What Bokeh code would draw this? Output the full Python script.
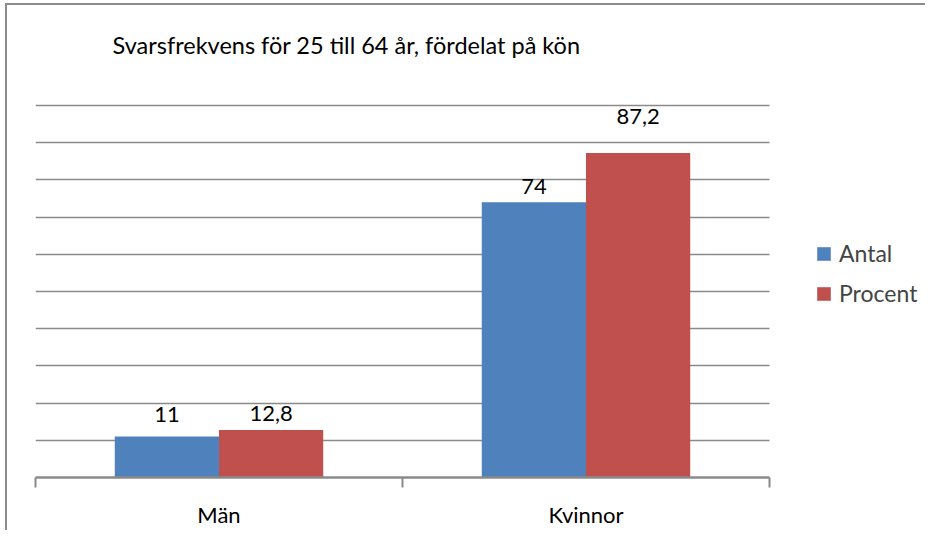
from bokeh.plotting import figure
from bokeh.models import (ColumnDataSource, FixedTicker, Label, LabelSet, Legend, LegendItem)
from bokeh.core.properties import value
from bokeh.embed import file_html
from bokeh.resources import INLINE

# ---- data ----
title_text = "Svarsfrekvens för 25 till 64 år, fördelat på kön"
categories = ["Män", "Kvinnor"]
series_names = ["Antal", "Procent"]
antal = [11, 74]
procent = [12.8, 87.2]
y_ticks = [0, 10, 20, 30, 40, 50, 60, 70, 80, 90, 100]
y_max = 100

# ---- style ----
FONT = "Lato"
BLUE = "#4F81BD"
RED = "#C0504D"
GRID = "#8a8a8a"
BAR_W = 0.284
label_dy_antal = [15, 8]
label_dy_procent = [9, 29]

W, H = 920, 527
BORDER_L, BORDER_B = 28, 55
PLOT_W, PLOT_H = 734, 372  # size of the category/value area in px


def fmt(v):
    return str(v).replace(".", ",")


n = len(categories)
centers = [i + 0.5 for i in range(n)]
x_end = n * (W - BORDER_L) / PLOT_W
y_end = y_max * (H - BORDER_B) / PLOT_H

p = figure(width=W, height=H, output_backend="svg", toolbar_location=None,
           x_range=(0, x_end), y_range=(0, y_end),
           min_border_left=BORDER_L, min_border_right=0, min_border_top=0,
           min_border_bottom=BORDER_B)
p.background_fill_color = "white"
p.border_fill_color = "white"
p.outline_line_color = None
p.styles = {"border-top": "2px solid #8c8c8c", "border-left": "2px solid #8c8c8c",
            "margin-left": "5px", "margin-top": "3px"}

src_a = ColumnDataSource(dict(x=[c - BAR_W / 2 for c in centers], top=antal,
                              lab=[fmt(v) for v in antal], dy=label_dy_antal))
src_p = ColumnDataSource(dict(x=[c + BAR_W / 2 for c in centers], top=procent,
                              lab=[fmt(v) for v in procent], dy=label_dy_procent))

r_a = p.vbar(x="x", top="top", width=BAR_W, bottom=0, source=src_a, fill_color=BLUE, line_color=None)
r_p = p.vbar(x="x", top="top", width=BAR_W, bottom=0, source=src_p, fill_color=RED, line_color=None)

for src in (src_a, src_p):
    p.add_layout(LabelSet(x="x", y="top", text="lab", source=src, y_offset="dy",
                          text_align="center", text_baseline="alphabetic",
                          text_font=value(FONT), text_font_size="22px", text_color="black"))

# grid
p.xgrid.visible = False
p.ygrid.ticker = FixedTicker(ticks=y_ticks)
p.ygrid.grid_line_color = GRID
p.ygrid.grid_line_width = 1.5
p.ygrid.cross_bounds = (0, n)

# axes
p.yaxis.visible = False
ax = p.xaxis[0]
ax.bounds = (0, n)
ax.ticker = FixedTicker(ticks=centers, minor_ticks=list(range(n + 1)))
ax.major_label_overrides = {c: cat for c, cat in zip(centers, categories)}
ax.major_tick_out = 0
ax.major_tick_in = 0
ax.minor_tick_out = 10
ax.minor_tick_in = 0
ax.minor_tick_line_color = GRID
ax.minor_tick_line_width = 2
ax.axis_line_color = GRID
ax.axis_line_width = 2.5
ax.major_label_text_font = FONT
ax.major_label_text_font_size = "22px"
ax.major_label_text_color = "black"
ax.major_label_standoff = 13

# title (inside the frame, above the value area)
p.add_layout(Label(x=0.21, y=116.2, text=title_text, text_align="left",
                   text_baseline="alphabetic", text_font=FONT,
                   text_font_size="23.5px", text_color="black"))

legend = Legend(items=[LegendItem(label=series_names[0], renderers=[r_a]),
                       LegendItem(label=series_names[1], renderers=[r_p])],
                location=(780, 170), padding=0, margin=0, spacing=12,
                glyph_width=17, glyph_height=17, label_standoff=7,
                label_text_font=FONT, label_text_font_size="23px",
                border_line_color=None, background_fill_alpha=0)
p.add_layout(legend, "center")

open("out.html", "w").write(file_html(p, INLINE))
